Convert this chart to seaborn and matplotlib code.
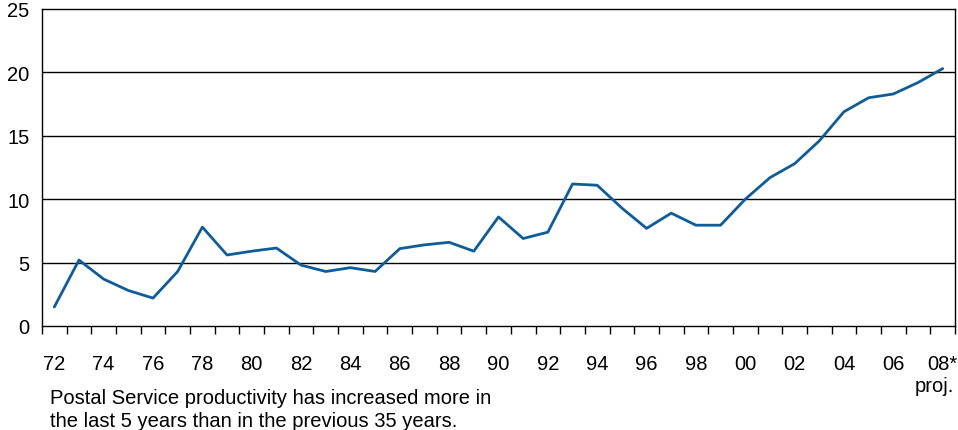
"""Postal Service productivity line chart, 1972-2008 (2008 projected)."""

import matplotlib

matplotlib.use("Agg")

import matplotlib.pyplot as plt
import numpy as np
import pandas as pd
import seaborn as sns
from matplotlib.ticker import FixedLocator, NullFormatter

years = [
    "72", "73", "74", "75", "76", "77", "78", "79", "80", "81",
    "82", "83", "84", "85", "86", "87", "88", "89", "90", "91",
    "92", "93", "94", "95", "96", "97", "98", "99", "00", "01",
    "02", "03", "04", "05", "06", "07", "08*",
]
productivity = [
    1.5, 5.2, 3.7, 2.8, 2.2, 4.3, 7.8, 5.6, 5.9, 6.15,
    4.8, 4.3, 4.6, 4.3, 6.1, 6.4, 6.6, 5.9, 8.6, 6.9,
    7.4, 11.2, 11.1, 9.3, 7.7, 8.9, 7.95, 7.95, 10.0, 11.7,
    12.8, 14.6, 16.9, 18.0, 18.3, 19.2, 20.3,
]
y_ticks = [0, 5, 10, 15, 20, 25]
caption = (
    "Postal Service productivity has increased more in\n"
    "the last 5 years than in the previous 35 years."
)

LINE_COLOR = "#0e5c98"
FONT_SIZE = 14.5

sns.set_style("white")
plt.rcParams["font.family"] = ["Liberation Sans", "DejaVu Sans"]
plt.rcParams["text.color"] = "black"
plt.rcParams["xtick.color"] = "black"
plt.rcParams["ytick.color"] = "black"

df = pd.DataFrame({"pos": np.arange(len(years)), "value": productivity})

fig = plt.figure(figsize=(9.58, 4.31), dpi=100)
ax = fig.add_axes([0.0438, 0.2413, 0.9531, 0.7355])

sns.lineplot(data=df, x="pos", y="value", color=LINE_COLOR, linewidth=2.0, ax=ax)

ax.set_xlim(-0.5, len(years) - 0.5)
ax.set_ylim(0, 25)
ax.set_xlabel("")
ax.set_ylabel("")

# horizontal guides
for y in y_ticks[1:-1]:
    ax.axhline(y, color="black", linewidth=1.0, zorder=0)

ax.set_yticks(y_ticks)
ax.set_yticklabels([str(t) for t in y_ticks], fontsize=FONT_SIZE)
ax.tick_params(axis="y", left=False, length=0, pad=9)

# labels every second year at category centres, ticks at boundaries
label_pos = list(range(0, len(years), 2))
ax.set_xticks(label_pos)
ax.set_xticklabels([years[i] for i in label_pos], fontsize=FONT_SIZE)
ax.tick_params(axis="x", which="major", bottom=True, length=0, pad=20)
ax.xaxis.set_minor_locator(FixedLocator(np.arange(-0.5, len(years), 1.0)))
ax.xaxis.set_minor_formatter(NullFormatter())
ax.tick_params(axis="x", which="minor", bottom=True, length=6, width=1.0,
               color="black", direction="out")

for side in ["left", "right", "top", "bottom"]:
    ax.spines[side].set_visible(True)
    ax.spines[side].set_color("black")
    ax.spines[side].set_linewidth(1.0)

ax.text(len(years) - 0.55, -0.188, "proj.", transform=ax.get_xaxis_transform(),
        ha="right", va="center", fontsize=FONT_SIZE)

fig.text(50 / 958, 1 - 410 / 431, caption, ha="left", va="center",
         fontsize=FONT_SIZE, linespacing=1.3)

fig.savefig("out.png", dpi=100)
plt.close(fig)
